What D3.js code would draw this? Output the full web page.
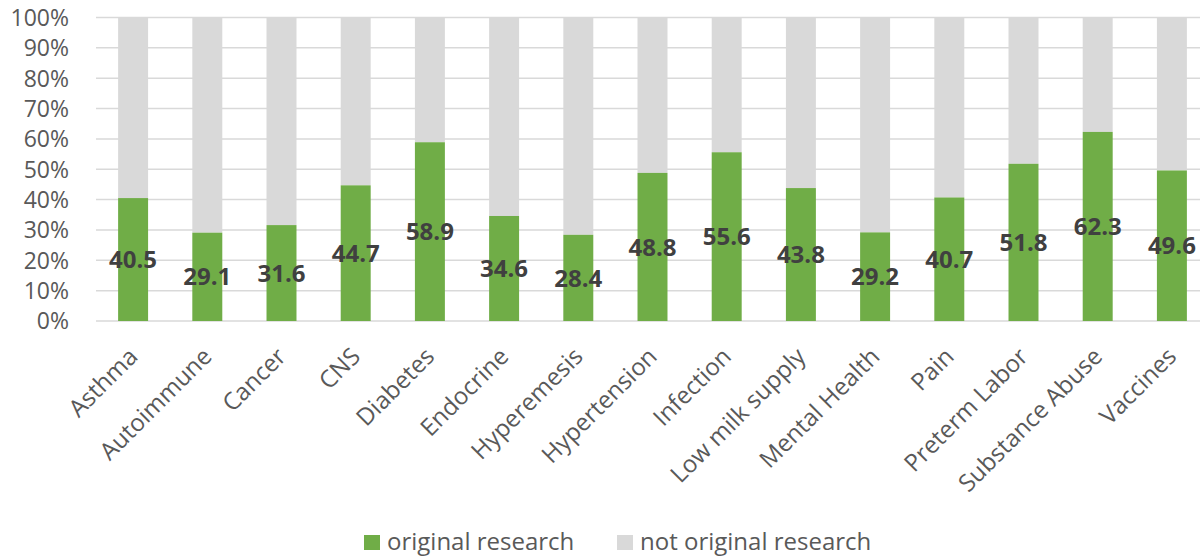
<!DOCTYPE html>
<html><head><meta charset="utf-8">
<script src="https://cdn.jsdelivr.net/npm/d3@7"></script>
<style>body{margin:0;background:#fff}svg{display:block}text{font-family:"Open Sans",sans-serif}</style>
</head><body><svg id="c" width="1200" height="558"></svg>
<script>
const categories = ["Asthma","Autoimmune","Cancer","CNS","Diabetes","Endocrine","Hyperemesis","Hypertension","Infection","Low milk supply","Mental Health","Pain","Preterm Labor","Substance Abuse","Vaccines"];
const original = [40.5,29.1,31.6,44.7,58.9,34.6,28.4,48.8,55.6,43.8,29.2,40.7,51.8,62.3,49.6];
const yTicks = [0,10,20,30,40,50,60,70,80,90,100];
const seriesNames = ["original research","not original research"];
const colors = ["#70ad47","#d9d9d9"];

const svg = d3.select("#c");
const x = d3.scaleBand().domain(categories).range([96,1209]).paddingInner(0.596).paddingOuter(0.298);
const y = d3.scaleLinear().domain([0,100]).range([321,17.5]);

// gridlines
svg.append("g").selectAll("line").data(yTicks).join("line")
  .attr("x1",96).attr("x2",1200).attr("y1",d=>y(d)).attr("y2",d=>y(d))
  .attr("stroke","#d9d9d9").attr("stroke-width",1.5);

// y axis labels
const yAxis = d3.axisLeft(y).tickValues(yTicks).tickFormat(d=>d+"%").tickSize(0).tickPadding(0);
const ya = svg.append("g").attr("transform","translate(69,0)").call(yAxis);
ya.select(".domain").remove();
ya.selectAll("text").attr("font-size",23).attr("fill","#595959").attr("font-family","Open Sans").attr("dy","0.34em");

const data = categories.map((c,i)=>({c, v: original[i]}));
// not original
svg.append("g").selectAll("rect").data(data).join("rect")
  .attr("x",d=>x(d.c)).attr("width",x.bandwidth())
  .attr("y",y(100)).attr("height",d=>y(d.v)-y(100)).attr("fill",colors[1]);
// original
svg.append("g").selectAll("rect").data(data).join("rect")
  .attr("x",d=>x(d.c)).attr("width",x.bandwidth())
  .attr("y",d=>y(d.v)).attr("height",d=>y(0)-y(d.v)).attr("fill",colors[0]);

// value labels
svg.append("g").selectAll("text").data(data).join("text")
  .attr("x",d=>x(d.c)+x.bandwidth()/2).attr("y",d=>(y(d.v)+y(0))/2)
  .attr("dy","0.36em").attr("text-anchor","middle")
  .attr("font-size",24).attr("font-weight","bold").attr("fill","#404040")
  .text(d=>d.v.toFixed(1));

// x axis labels
const xAxis = d3.axisBottom(x).tickSize(0).tickPadding(0);
const xa = svg.append("g").attr("transform","translate(0,321)").call(xAxis);
xa.select(".domain").remove();
xa.selectAll("text").attr("font-size",24).attr("fill","#595959").attr("font-family","Open Sans")
  .attr("text-anchor","end").attr("transform","translate(6,37) rotate(-45)").attr("dy",0).attr("y",0).attr("x",0);

// legend
const legendX = [364, 617];
const lg = svg.append("g").selectAll("g").data(seriesNames).join("g")
  .attr("transform",(d,i)=>`translate(${legendX[i]},535)`);
lg.append("rect").attr("width",16).attr("height",15).attr("fill",(d,i)=>colors[i]);
lg.append("text").attr("x",23).attr("y",15).attr("font-size",24).attr("fill","#595959").text(d=>d);
</script></body></html>
